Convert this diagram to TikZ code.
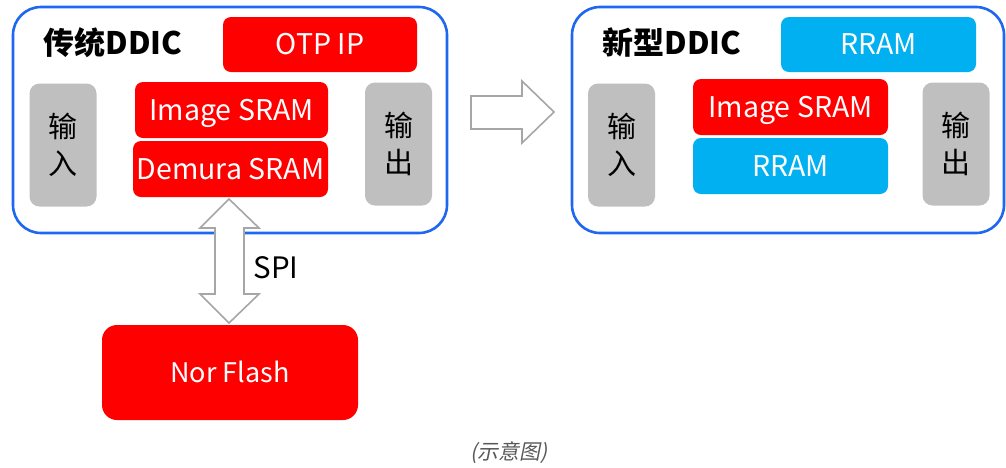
\documentclass[tikz,border=0pt]{standalone}
\usepackage{fontspec}
\setmainfont{Noto Sans CJK SC}
\newfontfamily\capfont[FakeSlant=0.2]{Noto Sans CJK SC}
\definecolor{ddicblue}{HTML}{1F66F0}
\definecolor{memred}{HTML}{FF0000}
\definecolor{memcyan}{HTML}{00B0F0}
\definecolor{iogray}{HTML}{BFBFBF}
\definecolor{arrgray}{HTML}{A6A6A6}
\definecolor{capgray}{HTML}{595959}
\tikzset{
  outerbox/.style={draw=ddicblue, line width=2.6pt, rounded corners=28pt, fill=white},
  membox/.style={rounded corners=8pt, inner sep=0pt, text=white, font=\fontsize{28.5}{32}\selectfont, text height=20.5pt, text depth=0pt},
  redmem/.style={membox, fill=memred},
  cyanmem/.style={membox, fill=memcyan},
  iobox/.style={fill=iogray, rounded corners=10pt, inner sep=0pt, align=center, font=\fontsize{29}{37}\selectfont, minimum width=67pt, minimum height=123pt},
  titletext/.style={font=\fontsize{31}{34}\selectfont\bfseries, inner sep=0pt},
  hollowarrow/.style={draw=arrgray, line width=1.6pt, fill=white, line join=miter}
}
\begin{document}
\begin{tikzpicture}[x=1pt,y=-1pt]
\useasboundingbox (0,0) rectangle (1006,467);
% left chip
\draw[outerbox] (13,7) rectangle (447,233);
\node[titletext] (titleL) at (113,43) {传统DDIC};
\node[redmem, minimum width=194pt, minimum height=55pt] (otp) at (320,44.5) {OTP IP};
\node[redmem, minimum width=193pt, minimum height=56pt] (imgL) at (231.5,110) {Image SRAM};
\node[redmem, minimum width=195pt, minimum height=56pt] (demL) at (230.5,169) {Demura SRAM};
\node[iobox] (inL) at (63,145) {输\\入};
\node[iobox] (outL) at (398.5,144) {输\\出};
% right chip
\draw[outerbox] (572,7) rectangle (1004,233);
\node[titletext] (titleR) at (672,43) {新型DDIC};
\node[cyanmem, minimum width=195pt, minimum height=55pt] (rram1) at (878.5,44.5) {RRAM};
\node[redmem, minimum width=195pt, minimum height=56pt] (imgR) at (790.5,107) {Image SRAM};
\node[cyanmem, minimum width=195pt, minimum height=56pt] (rram2) at (790.5,166) {RRAM};
\node[iobox] (inR) at (621.5,145) {输\\入};
\node[iobox] (outR) at (956,144) {输\\出};
% nor flash
\node[redmem, rounded corners=15pt, font=\fontsize{27}{30}\selectfont, text height=19.5pt, minimum width=256pt, minimum height=95pt] (nor) at (230,372.5) {Nor Flash};
% SPI double arrow
\draw[hollowarrow] (229,199) -- (259,228) -- (244,228) -- (244,294) -- (259,294) -- (229,323)
  -- (200,294) -- (215,294) -- (215,228) -- (200,228) -- cycle;
\node[font=\fontsize{29.5}{32}\selectfont, inner sep=0pt] (spi) at (276,268) {SPI};
% big right arrow
\draw[hollowarrow] (471,96) -- (522,96) -- (522,81) -- (554,112) -- (522,143) -- (522,129) -- (471,129) -- cycle;
% caption
\node[font=\capfont\fontsize{21}{24}\selectfont, text=capgray, inner sep=0pt] (cap) at (509,453) {(示意图)};
\end{tikzpicture}
\end{document}
